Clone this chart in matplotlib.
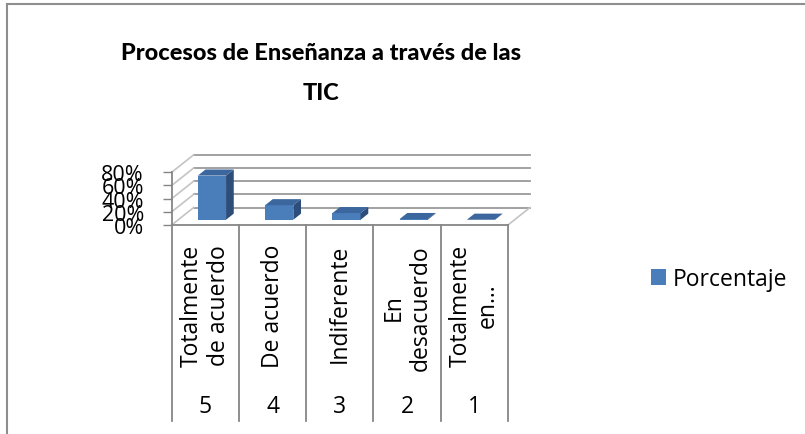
import matplotlib
matplotlib.use("Agg")
import matplotlib.pyplot as plt
import matplotlib.transforms as mtransforms
from matplotlib.patches import Polygon
from matplotlib.lines import Line2D
import numpy as np

# ---------------- data ----------------
categories = ["Totalmente\nde acuerdo", "De acuerdo", "Indiferente", "En\ndesacuerdo", "Totalmente\nen…"]
codes = ["5", "4", "3", "2", "1"]
values = [67, 22, 10, 1, 0]
y_ticks = [0, 20, 40, 60, 80]
y_tick_labels = ["0%", "20%", "40%", "60%", "80%"]
series_name = "Porcentaje"
title = "Procesos de Enseñanza a través de las\nTIC"

# ---------------- style ----------------
plt.rcParams['font.family'] = ['Open Sans', 'DejaVu Sans']
front_color = "#4A7EBB"
top_color = "#3C679E"
side_color = "#2D4E7A"
grid_color = "#9A9A9A"
wall_color = "#C4C4C4"
axis_color = "#868686"
border_color = "#8E8E8E"

W, H = 805, 435
fig = plt.figure(figsize=(W / 100, H / 100), dpi=100)
fig.patch.set_facecolor("white")


def fx(px):
    return px / W


def fy(py):
    return 1 - py / H


n = len(categories)
front_left, front_right = 171.7, 508.0
floor_y, top_y = 226.0, 173.3
depth_px = (22.0, -17.5)
cat_px = (front_right - front_left) / n
DX = depth_px[0] / cat_px
ymax = max(y_ticks)
px_per_unit = (floor_y - top_y) / ymax
DY = -depth_px[1] / px_per_unit

ax = fig.add_axes([fx(front_left), fy(floor_y),
                   fx(front_right + depth_px[0]) - fx(front_left),
                   fy(top_y + depth_px[1]) - fy(floor_y)])
ax.set_xlim(0, n + DX)
ax.set_ylim(0, ymax + DY)
ax.patch.set_visible(False)
for s in ax.spines.values():
    s.set_visible(False)

# back wall gridlines + left wall diagonals
for v in y_ticks:
    ax.plot([DX, n + DX], [v + DY, v + DY], color=grid_color, lw=1.3, zorder=1, clip_on=False)
    ax.plot([0, DX], [v, v + DY], color=wall_color, lw=1.2, zorder=1, clip_on=False)
# floor
ax.plot([n, n + DX], [0, DY], color=wall_color, lw=1.2, zorder=1, clip_on=False)
ax.plot([0, n], [0, 0], color=axis_color, lw=1.3, zorder=2, clip_on=False)
ax.plot([0, 0], [0, ymax], color=axis_color, lw=1.3, zorder=2, clip_on=False)

# ticks
ax.set_xticks([])
ax.set_yticks(y_ticks)
ax.set_yticklabels(y_tick_labels, fontsize=15.5)
ax.tick_params(axis='y', direction='out', length=6.5, width=1.0, color=axis_color, pad=13.5)

# bars (3D look)
f0, d, w = 0.3, 0.35, 0.42
centers = np.arange(n) + 0.5
bars = ax.bar(centers + f0 * DX, values, width=w, bottom=f0 * DY,
              color=front_color, edgecolor='none', zorder=3, label=series_name)
for rect in bars:
    x0 = rect.get_x()
    x1 = x0 + rect.get_width()
    yb = rect.get_y()
    yt = yb + rect.get_height()
    ox, oy = d * DX, d * DY
    ax.add_patch(Polygon([(x0, yt), (x1, yt), (x1 + ox, yt + oy), (x0 + ox, yt + oy)],
                         closed=True, facecolor=top_color, edgecolor='none', zorder=4))
    ax.add_patch(Polygon([(x1, yb), (x1 + ox, yb + oy), (x1 + ox, yt + oy), (x1, yt)],
                         closed=True, facecolor=side_color, edgecolor='none', zorder=4))

# category table below the floor
trans = mtransforms.blended_transform_factory(ax.transData, fig.transFigure)
for i in range(n + 1):
    ax.plot([i, i], [fy(floor_y), fy(422)], transform=trans, color=axis_color,
            lw=1.3, clip_on=False, zorder=2)
for c, lab, code in zip(centers, categories, codes):
    ax.text(c, fy(245), lab, transform=trans, rotation=90, ha='center', va='top',
            multialignment='center', fontsize=16.5, linespacing=1.15, color="black")
    ax.text(c, fy(407), code, transform=trans, ha='center', va='center',
            fontsize=16.5, color="black")

# title: fit the first line's width to the reference (~398 px)
title_font = ['Lato', 'Open Sans', 'DejaVu Sans']
title_weight = 900
ttl = fig.text(fx(321), fy(73.5), title, ha='center', va='center', fontsize=18,
               fontweight=title_weight, linespacing=2.15, color="black", family=title_font)
renderer = fig.canvas.get_renderer()
probe = fig.text(0, 0, title.split("\n")[0], fontsize=18, fontweight=title_weight,
                 family=title_font)
wpx = probe.get_window_extent(renderer).width
probe.remove()
ttl.set_fontsize(18 * 398.0 / wpx)

# legend
fig.legend(handles=[bars], labels=[series_name], loc='center left',
           bbox_to_anchor=(fx(651), fy(280)), frameon=False, fontsize=16.5,
           handlelength=0.65, handleheight=0.65, handletextpad=0.3, borderpad=0,
           borderaxespad=0)

# chart border (left and top)
fig.add_artist(Line2D([fx(7), fx(7)], [fy(5), 0], color=border_color, lw=1.5))
fig.add_artist(Line2D([fx(7), 1], [fy(5), fy(5)], color=border_color, lw=1.5))

fig.savefig("out.png", dpi=100)
